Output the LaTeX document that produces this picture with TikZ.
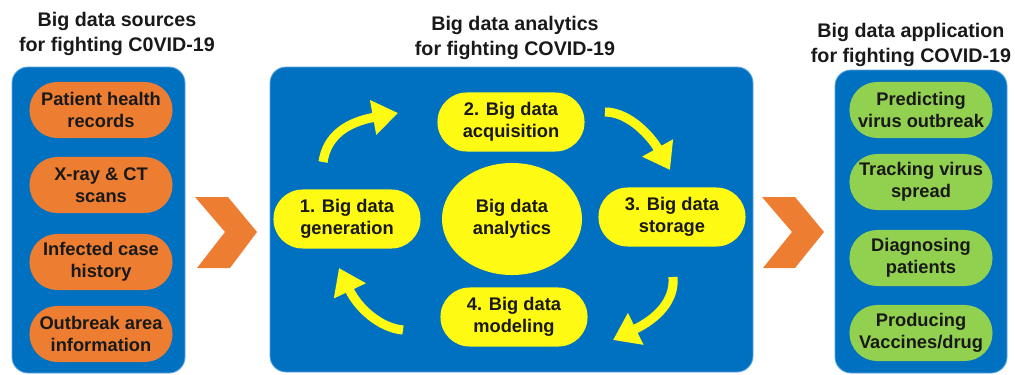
\documentclass[tikz,border=0pt]{standalone}
\usepackage{fontspec}
\setmainfont{Liberation Sans}
\usepackage{xcolor}
\usepackage{tikz}
\usetikzlibrary{positioning,shapes.geometric,arrows.meta}
\definecolor{PanelBlue}{RGB}{0,112,192}
\definecolor{PanelEdge}{RGB}{90,165,225}
\definecolor{SrcOrange}{RGB}{237,125,49}
\definecolor{AppGreen}{RGB}{146,208,80}
\definecolor{StepYellow}{RGB}{255,250,20}
\definecolor{InkDark}{RGB}{25,25,25}
\tikzset{
    titlenode/.style={align=center, text=InkDark, font=\bfseries\fontsize{14}{17.5}\selectfont},
    panel/.style={fill=PanelBlue, draw=PanelEdge, line width=0.6pt, rounded corners=0.4cm},
    pill/.style={align=center, inner sep=0pt, text=InkDark, minimum width=3.575cm, minimum height=1.4cm, rounded corners=0.69cm, font=\bfseries\fontsize{13}{15.5}\selectfont},
    srcnode/.style={pill, fill=SrcOrange},
    appnode/.style={pill, fill=AppGreen},
    stepnode/.style={pill, fill=StepYellow, minimum width=3.675cm, minimum height=1.475cm, rounded corners=0.73cm}
}

\begin{document}
\begin{tikzpicture}[
        x=0.025cm, y=-0.025cm,
        % Style cho nút trung tâm
        hubnode/.style={
            ellipse,
            fill=StepYellow,
            text=InkDark,
            align=center,
            inner sep=0pt,
            minimum width=3.5cm,
            minimum height=2.8cm,
            font=\bfseries\fontsize{13}{15.5}\selectfont
        },
        cyclearrow/.style={draw=StepYellow, line width=6.5pt, -{Triangle[length=18pt, width=24pt]}},
        chevron/.style={fill=SrcOrange}
    ]
        \useasboundingbox (0,0) rectangle (1015,375);

        % --- TITLES ---
        \node[titlenode] (srctitle) at (117,34) {Big data sources\\for fighting C0VID-19};
        \node[titlenode] (anatitle) at (515,38) {Big data analytics\\for fighting COVID-19};
        \node[titlenode] (apptitle) at (911,45) {Big data application\\for fighting COVID-19};

        % --- PANELS ---
        \draw[panel] (12,67) rectangle (185,373);
        \draw[panel] (270,67) rectangle (753,372);
        \draw[panel] (835,70) rectangle (1007,373);

        % --- SOURCES ---
        \node[srcnode] (records) at (101,110) {Patient health\\records};
        \node[srcnode] (scans) at (101,185) {X-ray \& CT\\scans};
        \node[srcnode] (history) at (101,262) {Infected case\\history};
        \node[srcnode] (area) at (101,334) {Outbreak area\\information};

        % --- CHEVRONS ---
        \fill[chevron] (195,197) -- (228,197) -- (257,232) -- (230,268) -- (197,268) -- (225,232) -- cycle;
        \fill[chevron] (762,197) -- (795,197) -- (824,232) -- (795,268) -- (763,268) -- (792,232) -- cycle;

        % --- ANALYTICS CYCLE ---
        \node[hubnode] (hub) at (512,219) {Big data\\analytics};
        \node[stepnode] (gen) at (347,219) {1. Big data\\generation};
        \node[stepnode] (acq) at (511,122) {2. Big data\\acquisition};
        \node[stepnode] (sto) at (672,217) {3. Big data\\storage};
        \node[stepnode] (mod) at (514,317) {4. Big data\\modeling};

        % Mũi tên vòng: đầu và cuối
        \coordinate (ga) at (323,162);
        \coordinate (ag) at (398,113);
        \coordinate (as) at (605,112);
        \coordinate (sa) at (670,170);
        \coordinate (sm) at (673,277);
        \coordinate (ms) at (613,340);
        \coordinate (mg) at (403,330);
        \coordinate (gm) at (339,268);

        \draw[cyclearrow] (ga) .. controls (327,135) and (348,122) .. (ag);
        \draw[cyclearrow] (as) .. controls (630,112) and (652,138) .. (sa);
        \draw[cyclearrow] (sm) .. controls (675,300) and (658,318) .. (ms);
        \draw[cyclearrow] (mg) .. controls (380,328) and (358,308) .. (gm);

        % --- APPLICATIONS ---
        \node[appnode] (predict) at (921,110) {Predicting\\virus outbreak};
        \node[appnode] (track) at (921,182) {Tracking virus\\spread};
        \node[appnode] (diag) at (921,258) {Diagnosing\\patients};
        \node[appnode] (vacc) at (921,333) {Producing\\Vaccines/drug};

    \end{tikzpicture}
\end{document}
